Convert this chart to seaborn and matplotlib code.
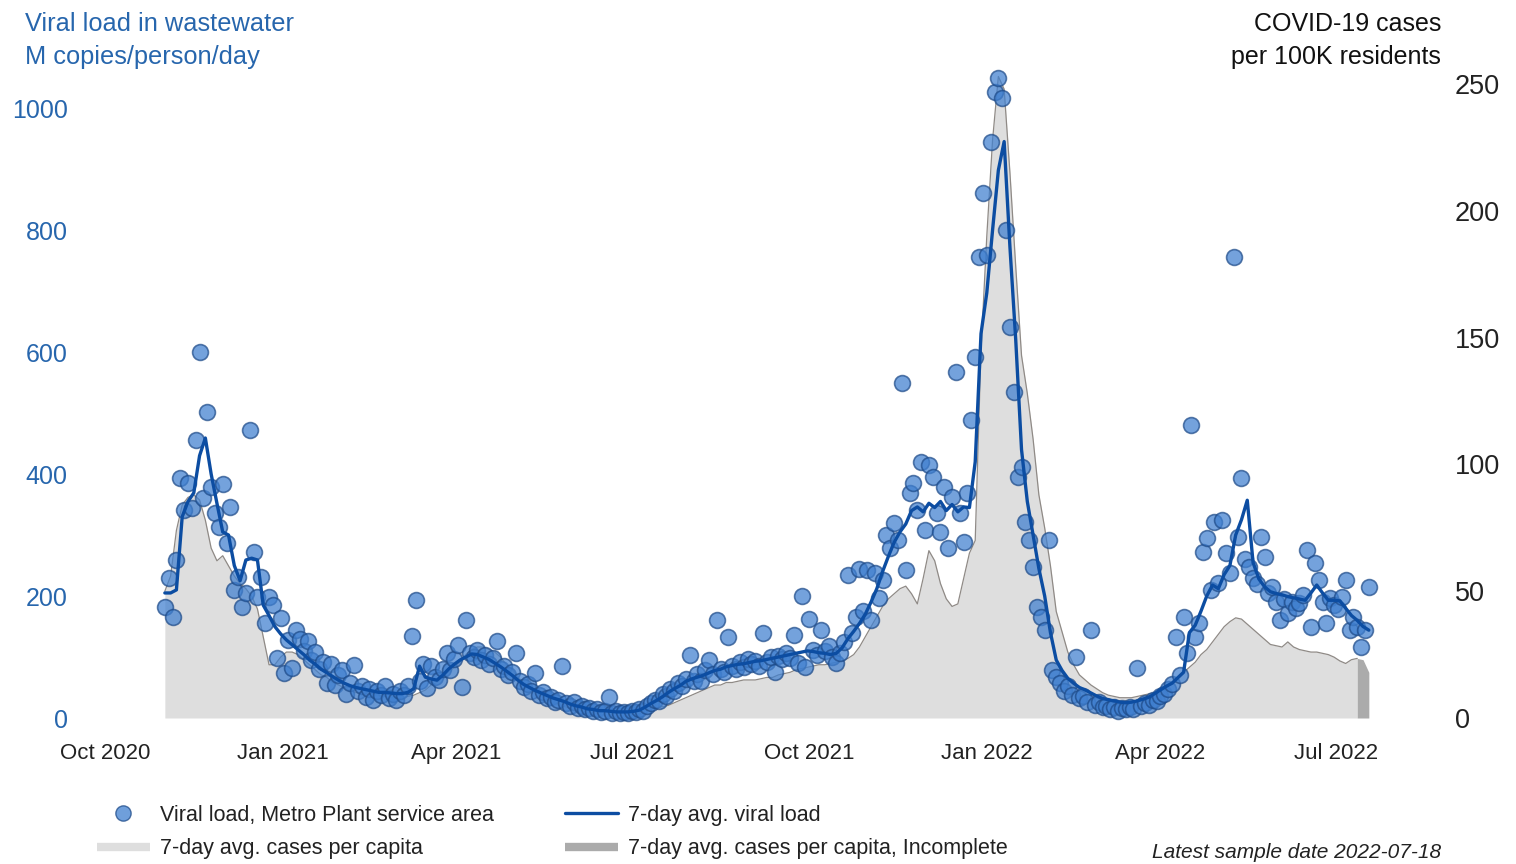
import pandas as pd
import matplotlib
matplotlib.use("Agg")
import matplotlib.pyplot as plt
from matplotlib.lines import Line2D
import seaborn as sns

# Viral load samples (M copies/person/day), every second day from 2020-11-01 to 2022-07-18
load_start = "2020-11-01"
viral_load = [
    182, 229, 166, 259, 393, 341, 385, 344, 456, 600,
    361, 502, 379, 336, 313, 384, 287, 346, 210, 231,
    182, 205, 472, 272, 198, 231, 156, 198, 185, 98,
    164, 74, 128, 82, 144, 130, 110, 126, 95, 108,
    80, 92, 58, 88, 54, 70, 78, 40, 57, 87,
    44, 52, 34, 48, 30, 45, 38, 52, 32, 40,
    30, 45, 38, 52, 134, 193, 60, 88, 50, 85,
    68, 62, 80, 107, 78, 96, 120, 51, 161, 107,
    100, 112, 95, 104, 88, 98, 126, 80, 86, 70,
    75, 107, 60, 51, 55, 45, 74, 38, 42, 32,
    35, 26, 30, 85, 24, 20, 26, 17, 20, 14,
    16, 12, 14, 10, 12, 34, 9, 11, 8, 10,
    9, 12, 10, 14, 12, 20, 24, 30, 28, 40,
    36, 48, 44, 58, 52, 64, 103, 60, 72, 60,
    78, 95, 72, 161, 80, 76, 133, 86, 80, 92,
    84, 96, 88, 94, 86, 139, 92, 100, 75, 102,
    96, 106, 98, 136, 90, 200, 84, 162, 112, 104,
    144, 110, 118, 100, 90, 107, 125, 234, 140, 166,
    244, 175, 243, 161, 238, 197, 226, 300, 279, 320,
    292, 549, 243, 369, 385, 341, 420, 308, 415, 395,
    336, 305, 379, 279, 362, 567, 336, 289, 369, 489,
    592, 756, 861, 759, 944, 1026, 1049, 1016, 800, 641,
    534, 395, 411, 321, 292, 248, 182, 166, 144, 292,
    79, 67, 58, 45, 52, 38, 100, 32, 36, 26,
    144, 22, 26, 18, 20, 14, 18, 12, 16, 14,
    18, 15, 82, 20, 24, 22, 30, 28, 36, 40,
    48, 55, 133, 70, 166, 107, 480, 133, 156, 272,
    295, 210, 321, 221, 324, 270, 238, 756, 297, 393,
    260, 248, 230, 220, 297, 264, 205, 215, 190, 161,
    195, 172, 190, 180, 188, 202, 275, 149, 254, 226,
    190, 156, 197, 185, 178, 198, 226, 144, 165, 150,
    116, 144, 215,
]

# 7-day average viral load, every third day from 2020-11-01
avg_start = "2020-11-01"
avg_load = [
    205, 205, 210, 330, 355, 369, 430, 459, 400, 352,
    305, 300, 250, 225, 259, 262, 259, 185, 168, 150,
    138, 128, 120, 112, 104, 95, 88, 80, 74, 68,
    62, 57, 53, 50, 48, 46, 44, 42, 42, 41,
    40, 40, 42, 48, 85, 67, 64, 62, 70, 80,
    88, 95, 100, 105, 104, 100, 96, 90, 84, 77,
    70, 62, 55, 50, 45, 41, 37, 33, 30, 27,
    23, 20, 18, 15, 14, 12, 12, 11, 10, 10,
    10, 11, 13, 18, 24, 29, 35, 42, 48, 53,
    60, 64, 67, 70, 74, 78, 80, 84, 86, 88,
    89, 91, 93, 94, 96, 98, 100, 102, 104, 106,
    108, 110, 109, 107, 106, 104, 106, 115, 130, 142,
    155, 170, 190, 212, 240, 265, 288, 305, 318, 340,
    346, 338, 352, 345, 355, 340, 350, 338, 346, 345,
    420, 630, 697, 800, 898, 945, 772, 620, 440, 355,
    300, 245, 200, 140, 95, 78, 65, 57, 50, 46,
    41, 36, 32, 30, 28, 26, 25, 26, 28, 31,
    34, 40, 46, 52, 57, 66, 75, 140, 152, 175,
    200, 218, 212, 235, 250, 300, 325, 357, 255, 228,
    215, 207, 204, 202, 199, 197, 195, 193, 205, 218,
    205, 193, 193, 192, 180, 168, 160, 150, 144,
]

# 7-day average COVID-19 cases per 100K residents, every third day from 2020-11-01
cases_start = "2020-11-01"
cases_avg = [
    50, 56, 74, 84, 87, 88, 86, 78, 67, 62,
    64, 60, 56, 53, 51, 48, 43, 32, 21, 21,
    24, 26, 26, 25, 23, 21, 19, 17, 16, 14,
    13, 12, 11, 10, 10, 9.5, 9, 9, 8.5, 8,
    8, 8, 8.5, 9, 10, 11, 13, 14, 16, 18,
    20, 22, 25, 27, 28, 28, 27, 26, 24, 21,
    19, 16, 14, 12, 10, 9, 7.5, 6.5, 5.5, 4.5,
    4, 3.5, 3, 2.8, 2.6, 2.5, 2.3, 2.2, 2, 2,
    2, 2.2, 2.5, 3, 3.5, 4, 4.5, 5, 6, 7,
    8, 9, 10, 11, 12, 13, 13, 14, 14, 14.5,
    15, 15, 15, 15.5, 16, 16, 17, 17.5, 18, 19,
    19.5, 20, 20.5, 21, 21, 21.5, 22, 22.5, 23.5, 25,
    28, 32, 36, 40, 44, 47, 49, 51, 52, 49,
    45, 55, 66, 62, 53, 47, 44, 45, 55, 65,
    70, 145, 190, 228, 253, 248, 215, 178, 143, 128,
    110, 88, 75, 60, 42, 34, 26, 21, 17, 15,
    13, 11.5, 10, 9, 8.5, 8, 8, 8, 8.5, 9,
    9.5, 10, 11, 12, 14, 16, 18, 20, 22, 25,
    27, 30, 33, 36, 38, 39.5, 39, 37, 35, 33,
    31, 29, 28.5, 28, 30, 28, 27, 26.5, 26, 26,
    25.5, 25, 24, 22.5, 21.5, 23, 23.5, 23, 18,
]
incomplete_from = "2022-07-12"

tick_dates = ["2020-10-01", "2021-01-01", "2021-04-01", "2021-07-01",
              "2021-10-01", "2022-01-01", "2022-04-01", "2022-07-01"]
tick_labels = ["Oct 2020", "Jan 2021", "Apr 2021", "Jul 2021",
               "Oct 2021", "Jan 2022", "Apr 2022", "Jul 2022"]
load_ticks = [0, 200, 400, 600, 800, 1000]
case_ticks = [0, 50, 100, 150, 200, 250]

BLUE_TEXT = "#2766ad"
LINE_BLUE = "#0c4da2"
DOT_FACE = "#3f7fcf"
DOT_EDGE = "#1d4a88"
CASE_FILL = "#dedede"
CASE_EDGE = "#8f8a86"
CASE_INCOMPLETE = "#ababab"

sns.set_theme(style="white")
plt.rcParams["font.family"] = ["Liberation Sans", "DejaVu Sans"]

load_df = pd.DataFrame({
    "date": pd.date_range(load_start, periods=len(viral_load), freq="2D"),
    "load": viral_load,
})
avg_df = pd.DataFrame({
    "date": pd.date_range(avg_start, periods=len(avg_load), freq="3D"),
    "avg": avg_load,
})
cases_df = pd.DataFrame({
    "date": pd.date_range(cases_start, periods=len(cases_avg), freq="3D"),
    "cases": cases_avg,
})
cut = pd.Timestamp(incomplete_from)
complete = cases_df[cases_df["date"] <= cut]
incomplete = cases_df[cases_df["date"] >= cut]

fig = plt.figure(figsize=(15.16, 8.64), dpi=100)
ax = fig.add_axes([83.8 / 1516, 146 / 864, 1329.4 / 1516, 658 / 864])
ax2 = ax.twinx()

# cases (right axis) drawn underneath
ax2.fill_between(complete["date"], complete["cases"], 0, color=CASE_FILL, lw=0)
ax2.fill_between(incomplete["date"], incomplete["cases"], 0, color=CASE_INCOMPLETE, lw=0)
sns.lineplot(data=complete, x="date", y="cases", ax=ax2, color=CASE_EDGE, lw=0.9)
ax.set_zorder(ax2.get_zorder() + 1)
ax.patch.set_visible(False)

# viral load (left axis)
sns.scatterplot(data=load_df, x="date", y="load", ax=ax, s=130, color=DOT_FACE,
                alpha=0.72, edgecolor=DOT_EDGE, linewidth=1.2, zorder=3,
                clip_on=False, legend=False)
sns.lineplot(data=avg_df, x="date", y="avg", ax=ax, color=LINE_BLUE, lw=2.4, zorder=4)

xlim = (pd.Timestamp("2020-09-20"), pd.Timestamp("2022-08-10"))
ax.set_xlim(*xlim)
ax.set_ylim(0, 1078.7)
ax2.set_ylim(0, 259.5)

ax.set_xticks(pd.to_datetime(tick_dates))
ax.set_xticklabels(tick_labels)
ax.set_yticks(load_ticks)
ax.set_yticklabels([str(v) for v in load_ticks])
ax2.set_yticks(case_ticks)
ax2.set_yticklabels([str(v) for v in case_ticks])

ax.tick_params(axis="x", length=0, pad=18, labelsize=16, colors="#222222")
ax.tick_params(axis="y", length=0, pad=11.5, labelsize=18, colors=BLUE_TEXT)
ax2.tick_params(axis="y", length=0, pad=30, labelsize=19.5, colors="#222222")
for a in (ax, ax2):
    a.set_xlabel("")
    a.set_ylabel("")
    for sp in a.spines.values():
        sp.set_visible(False)
    a.grid(False)

# axis titles
fig.text(25 / 1516, 1 - 31 / 864, "Viral load in wastewater", color=BLUE_TEXT,
         fontsize=18.3, ha="left", va="baseline")
fig.text(25 / 1516, 1 - 64 / 864, "M copies/person/day", color=BLUE_TEXT,
         fontsize=18.3, ha="left", va="baseline")
fig.text(1441 / 1516, 1 - 31 / 864, "COVID-19 cases", color="#111111",
         fontsize=18, ha="right", va="baseline")
fig.text(1441 / 1516, 1 - 64 / 864, "per 100K residents", color="#111111",
         fontsize=18, ha="right", va="baseline")

handles = [
    Line2D([], [], ls="none", marker="o", markersize=11, markerfacecolor=DOT_FACE,
           markeredgecolor=DOT_EDGE, alpha=0.75),
    Line2D([], [], color=CASE_FILL, lw=6, solid_capstyle="butt"),
    Line2D([], [], color=LINE_BLUE, lw=2.4),
    Line2D([], [], color=CASE_INCOMPLETE, lw=6, solid_capstyle="butt"),
]
labels = ["Viral load, Metro Plant service area", "7-day avg. cases per capita",
          "7-day avg. viral load", "7-day avg. cases per capita, Incomplete"]
fig.legend(handles, labels, ncol=2, loc="center left",
           bbox_to_anchor=(97 / 1516, 1 - 832 / 864), frameon=False,
           fontsize=15.5, handlelength=2.45, handletextpad=0.47,
           columnspacing=3.3, labelspacing=0.58, borderpad=0, borderaxespad=0,
           labelcolor="#222222")

fig.text(1441 / 1516, 1 - 852 / 864, "Latest sample date 2022-07-18", style="italic",
         fontsize=15, ha="right", va="center", color="#222222")

fig.savefig("out.png", dpi=100)
